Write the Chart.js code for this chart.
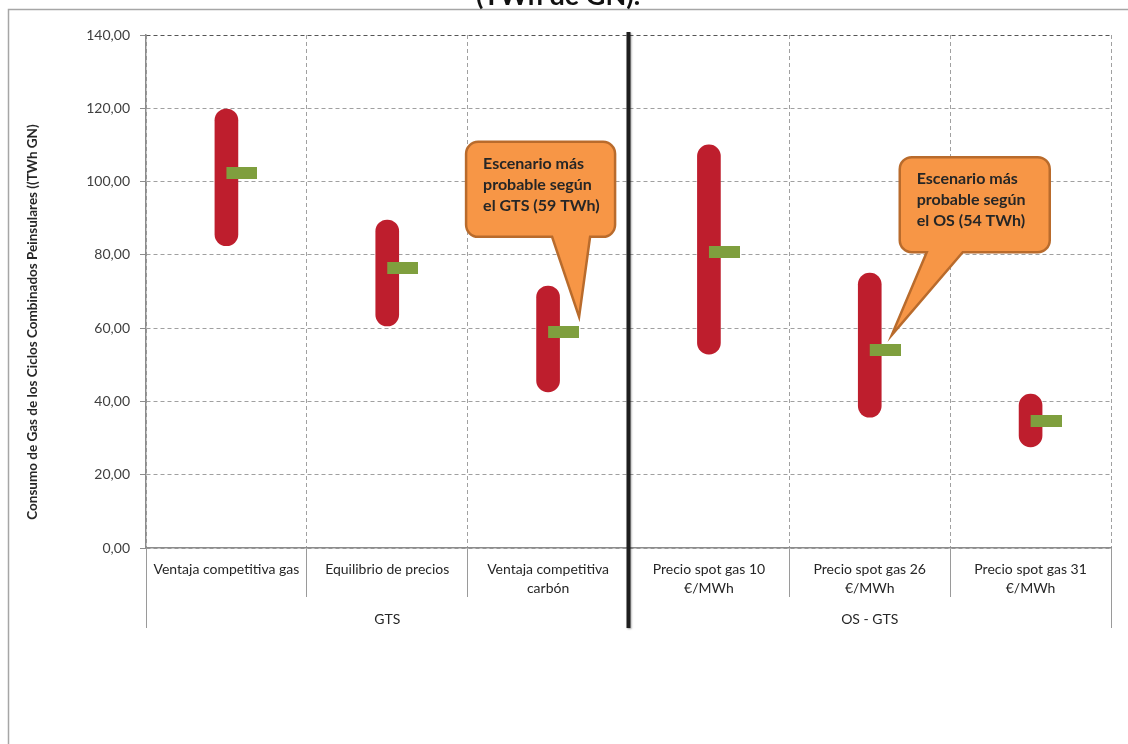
<!DOCTYPE html>
<html>
<head>
<meta charset="utf-8">
<script src="https://cdn.jsdelivr.net/npm/chart.js@4.4.1/dist/chart.umd.min.js"></script>
<style>
  html, body { margin: 0; padding: 0; background: #fff; }
  #wrap { position: relative; width: 1128px; height: 744px; }
</style>
</head>
<body>
<div id="wrap"><canvas id="chart" width="1128" height="744"></canvas></div>
<script>
// scenarios (two-line labels where the axis wraps them)
const categories = [
    ['Ventaja competitiva gas'],
    ['Equilibrio de precios'],
    ['Ventaja competitiva', 'carbón'],
    ['Precio spot gas 10', '€/MWh'],
    ['Precio spot gas 26', '€/MWh'],
    ['Precio spot gas 31', '€/MWh']
];
const groups = ['GTS', 'OS - GTS'];
const groupSizes = [3, 3];

// TWh GN: range of each scenario and its most likely value
const rangeLow  = [82.5, 60.6, 42.6, 52.9, 35.7, 27.6];
const rangeHigh = [119.8, 89.5, 71.5, 110.0, 75.0, 42.0];
const likely    = [102.3, 76.4, 59, 80.8, 54, 34.7];
const yTicks = [0, 20, 40, 60, 80, 100, 120, 140];
const yTitle = 'Consumo de Gas de los Ciclos Combinados Peinsulares ((TWh GN)';

const callouts = [
    { index: 2, source: 'GTS' },
    { index: 4, source: 'OS' }
];
// bubble geometry, relative to the marked value
const calloutLayout = [
    { tip: [31, -15], box: [-82, 67, -190, -95], base: [4, 42] },
    { tip: [22, -15], box: [30, 180, -193, -98], base: [57, 93] }
];

const FONT = 'Lato, "Open Sans", sans-serif';
const RED = '#BE1E2D';
const GREEN = '#7F9F3E';

// green tick: drawn centred on the point, so the left half is empty
const marker = document.createElement('canvas');
marker.width = 62;
marker.height = 12;
const mctx = marker.getContext('2d');
mctx.fillStyle = GREEN;
mctx.fillRect(31, 0, 31, 12);

const fmt = v => v.toFixed(2).replace('.', ',');

const framePlugin = {
    id: 'frame',
    beforeDraw(chart) {
        const ctx = chart.ctx;
        ctx.save();
        ctx.fillStyle = '#fff';
        ctx.fillRect(0, 0, chart.width, chart.height);
        ctx.strokeStyle = '#a6a6a6';
        ctx.lineWidth = 1.5;
        ctx.beginPath();
        ctx.moveTo(8.5, chart.height);
        ctx.lineTo(8.5, 9.5);
        ctx.lineTo(chart.width, 9.5);
        ctx.stroke();
        ctx.fillStyle = '#111';
        ctx.font = 'bold 27px ' + FONT;
        ctx.textAlign = 'center';
        ctx.textBaseline = 'alphabetic';
        ctx.fillText('(TWh de GN).', 558, 5);

        // vertical axis title, sitting a little below the plot's midpoint
        ctx.translate(33, 322);
        ctx.rotate(-Math.PI / 2);
        ctx.fillStyle = '#262626';
        ctx.font = 'bold 13.5px ' + FONT;
        ctx.textBaseline = 'middle';
        ctx.fillText(yTitle, 0, 0);
        ctx.restore();
    }
};

function drawCallout(ctx, l, R, t, b, baseL, baseR, tip, lines) {
    const r = 12;
    ctx.beginPath();
    ctx.moveTo(l + r, t);
    ctx.arcTo(R, t, R, b, r);
    ctx.arcTo(R, b, l, b, r);
    ctx.lineTo(baseR, b);
    ctx.lineTo(tip[0], tip[1]);
    ctx.lineTo(baseL, b);
    ctx.arcTo(l, b, l, t, r);
    ctx.arcTo(l, t, R, t, r);
    ctx.closePath();
    ctx.fillStyle = '#F79646';
    ctx.fill();
    ctx.strokeStyle = '#B96B2C';
    ctx.lineWidth = 2.5;
    ctx.stroke();
    ctx.fillStyle = '#262626';
    ctx.font = 'bold 16px ' + FONT;
    ctx.textAlign = 'left';
    ctx.textBaseline = 'alphabetic';
    lines.forEach((line, i) => ctx.fillText(line, l + 17, t + 27 + i * 21));
}

const overlayPlugin = {
    id: 'overlay',
    afterDraw(chart) {
        const ctx = chart.ctx;
        const x = chart.scales.x;
        const y = chart.scales.y;
        const area = chart.chartArea;
        const rowBottom = 628;
        ctx.save();

        // group separators and group names under the category labels
        let start = 0;
        ctx.strokeStyle = '#9a9a9a';
        ctx.lineWidth = 1;
        const edges = [start - 0.5];
        groupSizes.forEach(n => { start += n; edges.push(start - 0.5); });
        edges.forEach(e => {
            const px = Math.round(x.getPixelForValue(e)) + 0.5;
            ctx.beginPath();
            ctx.moveTo(px, area.bottom);
            ctx.lineTo(px, rowBottom);
            ctx.stroke();
        });
        ctx.fillStyle = '#262626';
        ctx.font = '14px ' + FONT;
        ctx.textAlign = 'center';
        ctx.textBaseline = 'middle';
        groups.forEach((g, i) => {
            const cx = (x.getPixelForValue(edges[i]) + x.getPixelForValue(edges[i + 1])) / 2;
            ctx.fillText(g, cx, 619);
        });

        // thick divider between the GTS and OS scenarios
        const split = x.getPixelForValue(edges[1]);
        ctx.shadowColor = 'rgba(0,0,0,0.35)';
        ctx.shadowBlur = 2;
        ctx.shadowOffsetX = 1;
        ctx.shadowOffsetY = 1;
        ctx.strokeStyle = '#1e1e1e';
        ctx.lineWidth = 4;
        ctx.beginPath();
        ctx.moveTo(split, area.top - 3);
        ctx.lineTo(split, rowBottom);
        ctx.stroke();
        ctx.shadowColor = 'transparent';

        // callouts on the most likely scenario of each study
        callouts.forEach((c, k) => {
            const L = calloutLayout[k];
            const cx = x.getPixelForValue(c.index);
            const cy = y.getPixelForValue(likely[c.index]);
            const lines = ['Escenario más', 'probable según',
                'el ' + c.source + ' (' + likely[c.index] + ' TWh)'];
            drawCallout(ctx, cx + L.box[0], cx + L.box[1], cy + L.box[2], cy + L.box[3],
                cx + L.base[0], cx + L.base[1], [cx + L.tip[0], cy + L.tip[1]], lines);
        });
        ctx.restore();
    }
};

new Chart(document.getElementById('chart'), {
    type: 'bar',
    data: {
        labels: categories,
        datasets: [
            {
                type: 'bar',
                data: rangeLow.map((lo, i) => [lo, rangeHigh[i]]),
                backgroundColor: RED,
                barThickness: 23,
                borderRadius: 12,
                borderSkipped: false,
                grouped: false,
                order: 2
            },
            {
                type: 'line',
                data: likely,
                showLine: false,
                pointStyle: marker,
                pointRadius: 6,
                order: 1
            }
        ]
    },
    options: {
        responsive: false,
        animation: false,
        devicePixelRatio: 1,
        layout: { padding: { left: 0, top: 35, right: 17, bottom: 0 } },
        plugins: {
            legend: { display: false },
            tooltip: { enabled: false }
        },
        scales: {
            x: {
                offset: true,
                grid: {
                    offset: true,
                    color: c => c.index === categories.length ? '#555' : '#a0a0a0',
                    tickLength: 49,
                    tickColor: '#9a9a9a',
                    tickBorderDash: []
                },
                border: { color: '#8c8c8c', width: 1.5, dash: [4, 3] },
                ticks: {
                    color: '#262626',
                    font: { family: FONT, size: 14, lineHeight: 1.35 },
                    padding: -37,
                    maxRotation: 0,
                    autoSkip: false
                },
                afterFit: s => { s.height = 196; }
            },
            y: {
                min: 0,
                max: 140,
                afterBuildTicks: s => { s.ticks = yTicks.map(v => ({ value: v })); },
                ticks: {
                    callback: v => fmt(v),
                    color: '#404040',
                    font: { family: FONT, size: 14 },
                    padding: 10
                },
                grid: {
                    color: c => c.tick && c.tick.value === 140 ? '#555' : '#a0a0a0',
                    tickLength: 6,
                    tickColor: '#8c8c8c',
                    tickBorderDash: []
                },
                border: { color: '#8c8c8c', width: 1.5, dash: [4, 3] },
                afterFit: s => { s.width = 146; }
            }
        }
    },
    plugins: [framePlugin, overlayPlugin]
});
</script>
</body>
</html>
